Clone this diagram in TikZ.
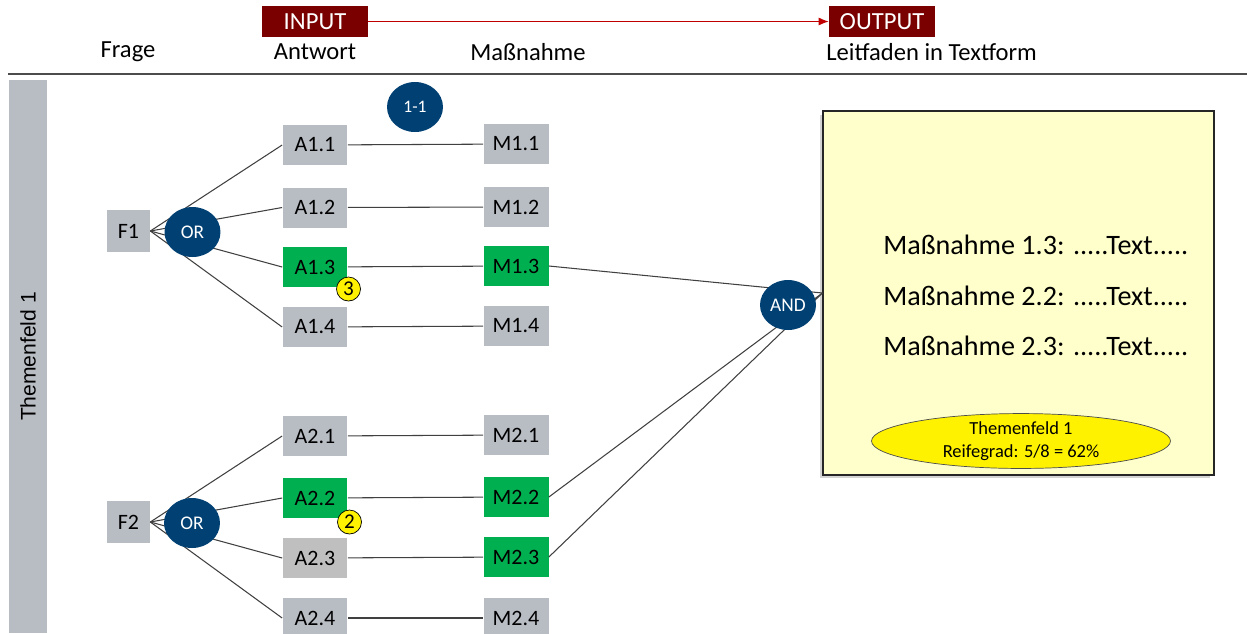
\documentclass[tikz,border=0pt]{standalone}
\usepackage{fontspec}
\setmainfont{Carlito}
\newfontfamily\barfont{Liberation Sans}
\definecolor{tfgray}{RGB}{184,188,195}
\definecolor{tflight}{RGB}{191,191,191}
\definecolor{tfgreen}{RGB}{0,176,80}
\definecolor{tfblue}{RGB}{0,64,115}
\definecolor{tfred}{RGB}{122,0,0}
\definecolor{tfarrow}{RGB}{192,0,0}
\definecolor{tfnote}{RGB}{255,255,204}
\definecolor{tfbar}{RGB}{184,188,195}
\usetikzlibrary{arrows.meta,positioning,shapes.geometric,shadows}

\begin{document}
\begin{tikzpicture}[x=0.02cm,y=-0.02cm,
  box/.style={fill=tfgray,minimum width=1.3cm,minimum height=0.8cm,inner sep=0pt,
    font=\fontsize{12.5}{14}\selectfont},
  ok/.style={box,fill=tfgreen},
  frage/.style={box,minimum width=0.86cm,minimum height=0.84cm},
  gate/.style={ellipse,fill=tfblue,text=white,inner sep=0pt,minimum width=1.12cm,
    minimum height=1cm,font=\fontsize{11}{12}\selectfont},
  badge/.style={circle,draw=black,fill=yellow,inner sep=0pt,minimum size=0.48cm,
    font=\fontsize{12}{12}\selectfont},
  head/.style={inner sep=0pt,font=\fontsize{14}{16}\selectfont},
  tag/.style={fill=tfred,text=white,minimum width=2.12cm,minimum height=0.62cm,
    inner sep=0pt,font=\fontsize{14}{16}\selectfont},
  link/.style={black!75,line width=0.6pt},
  line/.style={anchor=west,inner sep=0pt,font=\fontsize{16}{19}\selectfont}
]
  \useasboundingbox (0,0) rectangle (1247,633);

  % Header
  \node[tag] (inp) at (315,21.5) {INPUT};
  \node[tag] (outp) at (882,21.5) {OUTPUT};
  \draw[-{Latex[length=2mm,width=1.6mm]},tfarrow,line width=0.6pt] (inp) -- (outp);
  \node[head] (hfrage) at (128,52) {Frage};
  \node[head] (hantw) at (315,52) {Antwort};
  \node[head] (hmass) at (528,52) {Maßnahme};
  \node[head,anchor=west] (hleit) at (826,52) {Leitfaden in Textform};
  \draw[black!70,line width=0.8pt] (8,74) -- (1247,74);

  \node[fill=tfbar,minimum width=11.06cm,minimum height=0.76cm,inner sep=0pt,rotate=90,
    font=\barfont\fontsize{12}{14}\selectfont] (feld) at (28,356.5) {Themenfeld 1};
  \node[gate,font=\fontsize{10}{12}\selectfont] (nr) at (415,107) {1-1};

  % Frage 1
  \node[frage] (f1) at (128.5,231) {F1};
  \node[box] (a11) at (315,145) {A1.1};
  \node[box] (a12) at (315,207.5) {A1.2};
  \node[ok] (a13) at (315,267) {A1.3};
  \node[box] (a14) at (315,327) {A1.4};
  \node[box] (m11) at (516,144) {M1.1};
  \node[box] (m12) at (516,207) {M1.2};
  \node[ok] (m13) at (516,266) {M1.3};
  \node[box] (m14) at (516,326) {M1.4};

  % Frage 2
  \node[frage] (f2) at (128.5,522) {F2};
  \node[box] (a21) at (315,436) {A2.1};
  \node[ok] (a22) at (315,498) {A2.2};
  \node[box,fill=tflight] (a23) at (315,558) {A2.3};
  \node[box] (a24) at (315,618) {A2.4};
  \node[box] (m21) at (516,435) {M2.1};
  \node[ok] (m22) at (516,497) {M2.2};
  \node[ok] (m23) at (516,557) {M2.3};
  \node[box] (m24) at (516,618) {M2.4};

  % Leitfaden
  \node[draw=black!85,line width=0.7pt,fill=tfnote,minimum width=7.82cm,minimum height=7.28cm,
    drop shadow={shadow xshift=-2pt,shadow yshift=-2pt,opacity=0.35}] (out) at (1018.5,293) {};
  \node[line] (t1) at (883,245) {Maßnahme 1.3: .....Text.....};
  \node[line] (t2) at (883,296) {Maßnahme 2.2: .....Text.....};
  \node[line] (t3) at (883,346) {Maßnahme 2.3: .....Text.....};
  \node[ellipse,draw=black!70,fill=yellow,minimum width=5.98cm,minimum height=1.02cm,
    inner sep=0pt,align=center,font=\fontsize{10.5}{13}\selectfont] (reife) at (1021,441)
    {Themenfeld 1\\Reifegrad: 5/8 = 62\%};

  \foreach \i in {1,...,4} {
    \draw[link] (f1.east) -- (a1\i.west);
    \draw[link] (a1\i) -- (m1\i);
    \draw[link] (f2.east) -- (a2\i.west);
    \draw[link] (a2\i) -- (m2\i);
  }
  \draw[link] (m13.east) -- (out.west);
  \draw[link] (m22.east) -- (out.west);
  \draw[link] (m23.east) -- (out.west);

  \node[gate] (or1) at (192.5,232) {OR};
  \node[gate] (or2) at (192,523) {OR};
  \node[gate] (and) at (788,305) {AND};
  \node[badge] (b3) at (348.5,289) {3};
  \node[badge] (b2) at (349.5,522) {2};
\end{tikzpicture}
\end{document}
